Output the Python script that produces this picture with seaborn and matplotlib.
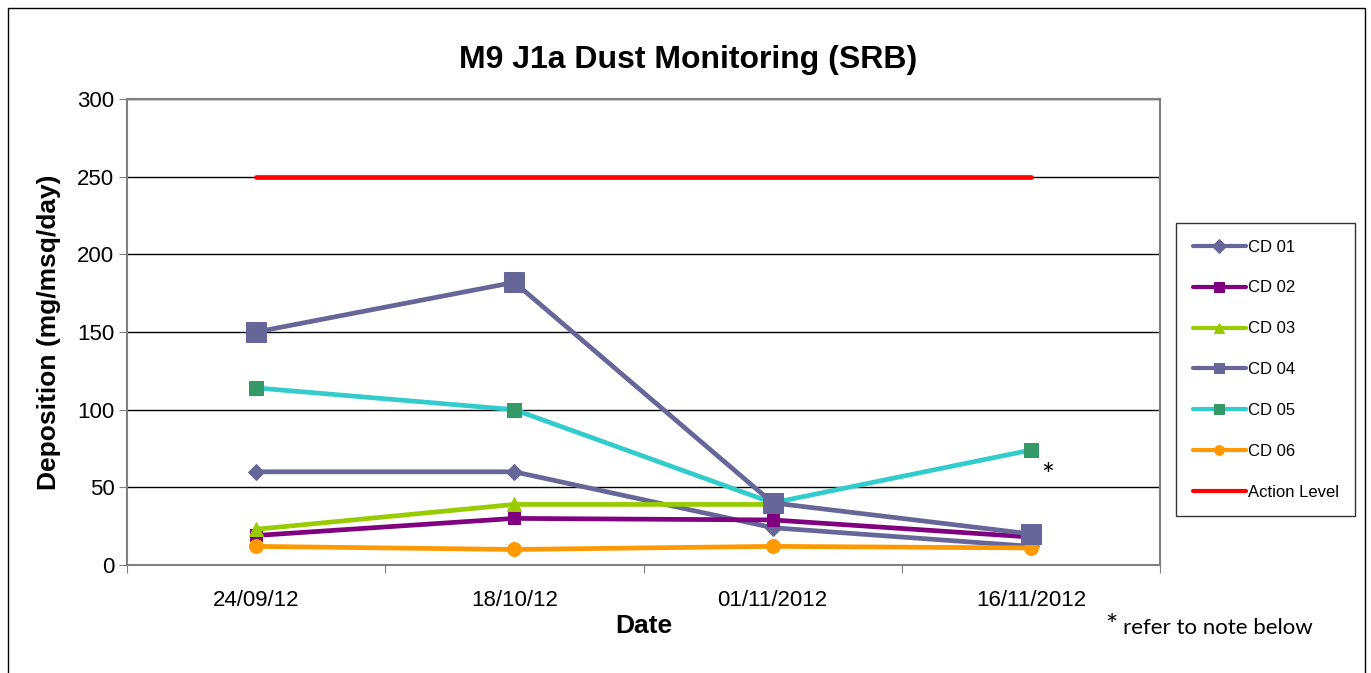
import numpy as np
import pandas as pd
import matplotlib
matplotlib.use("Agg")
import matplotlib.pyplot as plt
from matplotlib.patches import Rectangle
import seaborn as sns

# data
dates = ["24/09/12", "18/10/12", "01/11/2012", "16/11/2012"]
cd01 = [60, 60, 24, 12]
cd02 = [19, 30, 29, 18]
cd03 = [23, 39, 39]
cd04 = [150, 182, 40, 20]
cd05 = [114, 100, 40, 74]
cd06 = [12, 10, 12, 11]
action_level = [250, 250, 250, 250]

series_names = ["CD 01", "CD 02", "CD 03", "CD 04", "CD 05", "CD 06", "Action Level"]
series_vals = [cd01, cd02, cd03, cd04, cd05, cd06, action_level]
line_cols = ["#666699", "#800080", "#99cc00", "#666699", "#33cccc", "#ff9900", "#ff0000"]
mark_cols = ["#666699", "#800080", "#99cc00", "#666699", "#339966", "#ff9900", "#ff0000"]
markers = ["D", "s", "^", "s", "s", "o", None]
msizes = [8, 9, 10, 14, 10, 10, 0]

sns.set_style("white")
plt.rcParams['font.family'] = ['Liberation Sans', 'DejaVu Sans']
plt.rcParams['text.color'] = 'black'
plt.rcParams['axes.labelcolor'] = 'black'
plt.rcParams['xtick.color'] = 'black'
plt.rcParams['ytick.color'] = 'black'

fig = plt.figure(figsize=(13.71, 6.73), dpi=100)
ax = fig.add_axes([127/1371, 1 - 565/673, (1160-127)/1371, (565-99)/673])

for name, vals, lc, mc, mk, ms in zip(series_names, series_vals, line_cols, mark_cols, markers, msizes):
    df = pd.DataFrame({"x": np.arange(len(vals)), "y": vals})
    sns.lineplot(data=df, x="x", y="y", ax=ax, color=lc, lw=3.4, label=name,
                 marker=mk, markersize=ms, markerfacecolor=mc, markeredgecolor=mc,
                 zorder=6 if name == "CD 04" else 3)

ax.set_xlim(-0.5, len(dates) - 0.5)
ax.set_ylim(0, 300)
ax.set_yticks(range(0, 301, 50))
ax.set_xticks(np.arange(len(dates) + 1) - 0.5)
ax.set_xticklabels([])
ax.set_xticks(np.arange(len(dates)), minor=True)
ax.set_xticklabels(dates, minor=True, fontsize=16)
ax.tick_params(axis="x", which="minor", length=0, pad=18)
ax.tick_params(axis="x", which="major", length=6, color="#808080", direction="out", bottom=True)
ax.tick_params(axis="y", length=6, color="#808080", direction="out", left=True, labelsize=16, pad=3)
ax.grid(axis="y", color="black", lw=1)
ax.set_axisbelow(True)
for s in ax.spines.values():
    s.set_color("#808080")
    s.set_linewidth(1.5)

ax.set_xlabel("Date", fontsize=19, fontweight="bold", labelpad=2)
ax.set_ylabel("Deposition (mg/msq/day)", fontsize=19, fontweight="bold", labelpad=12)
fig.text(688/1371, 1 - 60/673, "M9 J1a Dust Monitoring (SRB)", ha="center", va="center",
         fontsize=23, fontweight="bold")

leg = ax.legend(loc="upper left", bbox_to_anchor=(1176/1371, 1 - 223/673),
                bbox_transform=fig.transFigure, frameon=True, fancybox=False,
                fontsize=12, handlelength=3.2, labelspacing=1.55, borderpad=1.0,
                handletextpad=0.1, borderaxespad=0)
leg.get_frame().set_edgecolor("black")
leg.get_frame().set_linewidth(1)
for h in leg.legend_handles:
    h.set_markersize(7)
    h.set_linewidth(3)

ax.text(3.065, 57, "*", fontsize=22, ha="center", va="center", family="Lato")
fig.text(1105/1371, 1 - 627/673, "*", fontsize=21, ha="left", va="center", family="Lato")
fig.text(1123/1371, 1 - 628/673, "refer to note below", fontsize=16, ha="left", va="center", family="Lato")

fig.patches.append(Rectangle((8/1371, -0.05), (1365-8)/1371, 1 - 8/673 + 0.05,
                             transform=fig.transFigure, fill=False, edgecolor="black", lw=1))

fig.savefig("out.png", dpi=100)
